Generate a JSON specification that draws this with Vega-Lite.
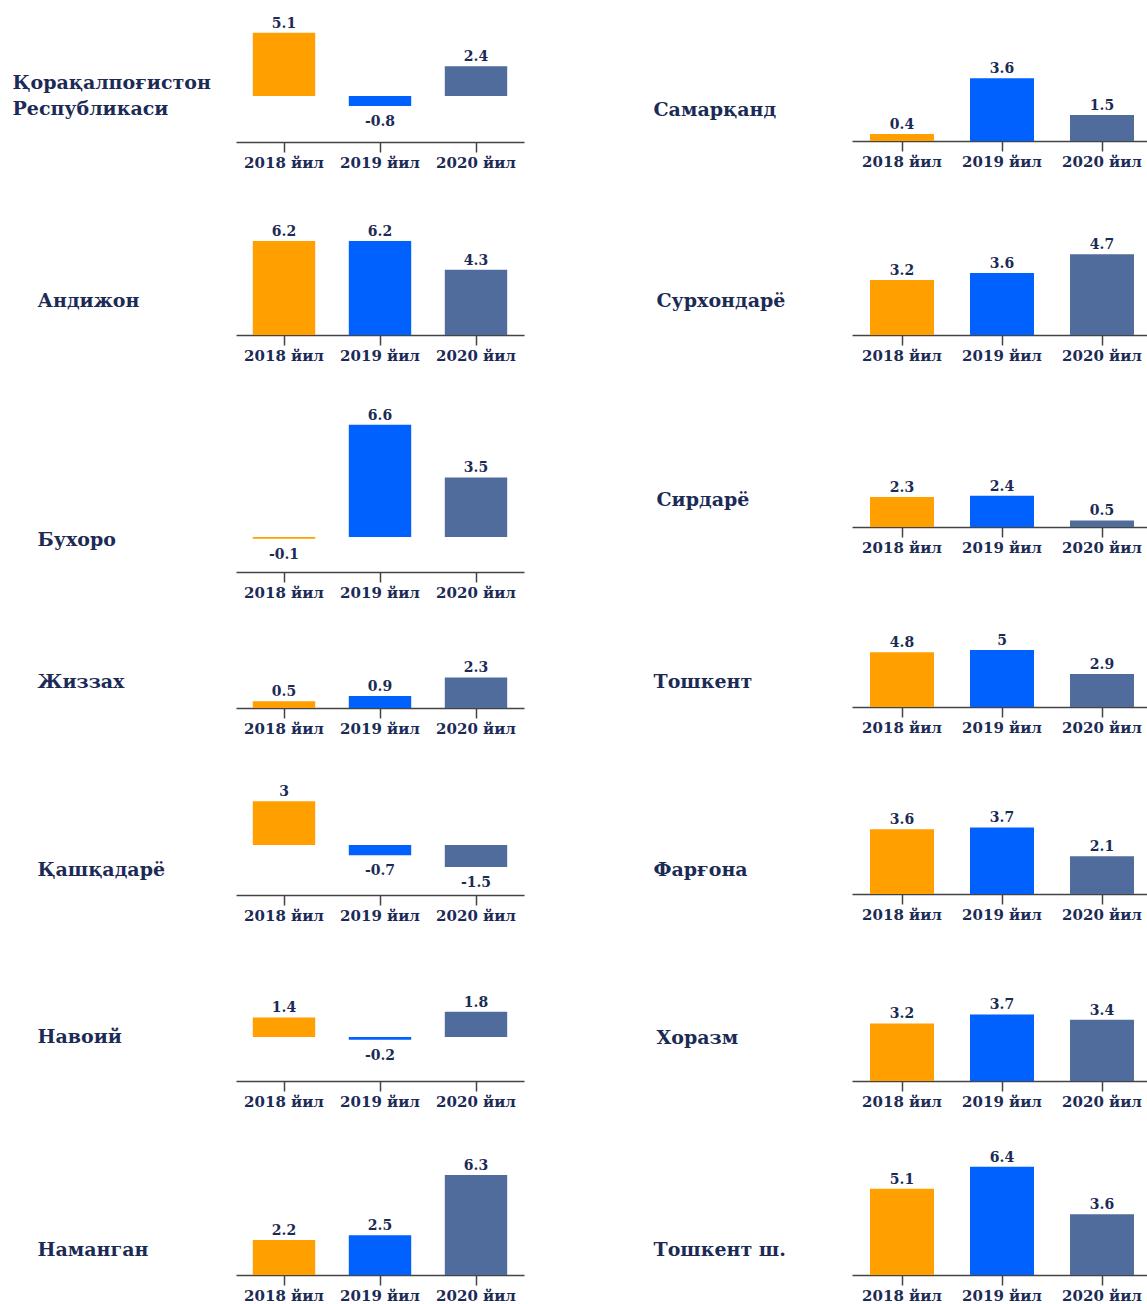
{
  "$schema": "https://vega.github.io/schema/vega-lite/v6.json",
  "padding": {"left": 12, "top": 10, "right": 0, "bottom": 0},
  "background": "white",
  "datasets": {
    "d": [
      {"region": "Қорақалпоғистон Республикаси", "year": "2018 йил", "value": 5.1},
      {"region": "Қорақалпоғистон Республикаси", "year": "2019 йил", "value": -0.8},
      {"region": "Қорақалпоғистон Республикаси", "year": "2020 йил", "value": 2.4},
      {"region": "Андижон", "year": "2018 йил", "value": 6.2},
      {"region": "Андижон", "year": "2019 йил", "value": 6.2},
      {"region": "Андижон", "year": "2020 йил", "value": 4.3},
      {"region": "Бухоро", "year": "2018 йил", "value": -0.1},
      {"region": "Бухоро", "year": "2019 йил", "value": 6.6},
      {"region": "Бухоро", "year": "2020 йил", "value": 3.5},
      {"region": "Жиззах", "year": "2018 йил", "value": 0.5},
      {"region": "Жиззах", "year": "2019 йил", "value": 0.9},
      {"region": "Жиззах", "year": "2020 йил", "value": 2.3},
      {"region": "Қашқадарё", "year": "2018 йил", "value": 3},
      {"region": "Қашқадарё", "year": "2019 йил", "value": -0.7},
      {"region": "Қашқадарё", "year": "2020 йил", "value": -1.5},
      {"region": "Навоий", "year": "2018 йил", "value": 1.4},
      {"region": "Навоий", "year": "2019 йил", "value": -0.2},
      {"region": "Навоий", "year": "2020 йил", "value": 1.8},
      {"region": "Наманган", "year": "2018 йил", "value": 2.2},
      {"region": "Наманган", "year": "2019 йил", "value": 2.5},
      {"region": "Наманган", "year": "2020 йил", "value": 6.3},
      {"region": "Самарқанд", "year": "2018 йил", "value": 0.4},
      {"region": "Самарқанд", "year": "2019 йил", "value": 3.6},
      {"region": "Самарқанд", "year": "2020 йил", "value": 1.5},
      {"region": "Сурхондарё", "year": "2018 йил", "value": 3.2},
      {"region": "Сурхондарё", "year": "2019 йил", "value": 3.6},
      {"region": "Сурхондарё", "year": "2020 йил", "value": 4.7},
      {"region": "Сирдарё", "year": "2018 йил", "value": 2.3},
      {"region": "Сирдарё", "year": "2019 йил", "value": 2.4},
      {"region": "Сирдарё", "year": "2020 йил", "value": 0.5},
      {"region": "Тошкент", "year": "2018 йил", "value": 4.8},
      {"region": "Тошкент", "year": "2019 йил", "value": 5},
      {"region": "Тошкент", "year": "2020 йил", "value": 2.9},
      {"region": "Фарғона", "year": "2018 йил", "value": 3.6},
      {"region": "Фарғона", "year": "2019 йил", "value": 3.7},
      {"region": "Фарғона", "year": "2020 йил", "value": 2.1},
      {"region": "Хоразм", "year": "2018 йил", "value": 3.2},
      {"region": "Хоразм", "year": "2019 йил", "value": 3.7},
      {"region": "Хоразм", "year": "2020 йил", "value": 3.4},
      {"region": "Тошкент ш.", "year": "2018 йил", "value": 5.1},
      {"region": "Тошкент ш.", "year": "2019 йил", "value": 6.4},
      {"region": "Тошкент ш.", "year": "2020 йил", "value": 3.6}
    ]
  },
  "data": {"name": "d"},
  "bounds": "flush",
  "align": "each",
  "columns": 2,
  "spacing": {"row": 40, "column": 328},
  "concat": [
    {
      "width": 288, "height": 132,
      "transform": [{"filter": "datum.region === 'Қорақалпоғистон Республикаси'"}],
      "encoding": {
        "x": {"field": "year", "type": "nominal", "sort": null, "scale": {"paddingInner": 0.35, "paddingOuter": 0.175}, "title": null},
        "y": {"field": "value", "type": "quantitative", "scale": {"domain": [-3.71, 6.94], "nice": false, "zero": false}, "axis": {"title": ["Қорақалпоғистон", "Республикаси"], "titleX": -224, "titleY": 72}}
      },
      "layer": [
        {"mark": "bar", "encoding": {"color": {"field": "year", "type": "nominal", "scale": {"domain": ["2018 йил", "2019 йил", "2020 йил"], "range": ["#FF9F00", "#0061FF", "#506C9C"]}, "legend": null}}},
        {"transform": [{"filter": "datum.value >= 0"}], "mark": {"type": "text", "baseline": "alphabetic", "dy": -5}, "encoding": {"text": {"field": "value", "type": "nominal"}}},
        {"transform": [{"filter": "datum.value < 0"}], "mark": {"type": "text", "baseline": "top", "dy": 9}, "encoding": {"text": {"field": "value", "type": "nominal"}}}
      ]
    },
    {
      "width": 300, "height": 131,
      "transform": [{"filter": "datum.region === 'Самарқанд'"}],
      "encoding": {
        "x": {"field": "year", "type": "nominal", "sort": null, "scale": {"paddingInner": 0.36, "paddingOuter": 0.18}, "title": null},
        "y": {"field": "value", "type": "quantitative", "scale": {"domain": [0, 7.53], "nice": false, "zero": false}, "axis": {"title": "Самарқанд", "titleX": -199, "titleY": 99}}
      },
      "layer": [
        {"mark": "bar", "encoding": {"color": {"field": "year", "type": "nominal", "scale": {"domain": ["2018 йил", "2019 йил", "2020 йил"], "range": ["#FF9F00", "#0061FF", "#506C9C"]}, "legend": null}}},
        {"transform": [{"filter": "datum.value >= 0"}], "mark": {"type": "text", "baseline": "alphabetic", "dy": -5}, "encoding": {"text": {"field": "value", "type": "nominal"}}},
        {"transform": [{"filter": "datum.value < 0"}], "mark": {"type": "text", "baseline": "top", "dy": 9}, "encoding": {"text": {"field": "value", "type": "nominal"}}}
      ]
    },
    {
      "width": 288, "height": 153,
      "transform": [{"filter": "datum.region === 'Андижон'"}],
      "encoding": {
        "x": {"field": "year", "type": "nominal", "sort": null, "scale": {"paddingInner": 0.35, "paddingOuter": 0.175}, "title": null},
        "y": {"field": "value", "type": "quantitative", "scale": {"domain": [0, 10.1], "nice": false, "zero": false}, "axis": {"title": "Андижон", "titleX": -199, "titleY": 118}}
      },
      "layer": [
        {"mark": "bar", "encoding": {"color": {"field": "year", "type": "nominal", "scale": {"domain": ["2018 йил", "2019 йил", "2020 йил"], "range": ["#FF9F00", "#0061FF", "#506C9C"]}, "legend": null}}},
        {"transform": [{"filter": "datum.value >= 0"}], "mark": {"type": "text", "baseline": "alphabetic", "dy": -5}, "encoding": {"text": {"field": "value", "type": "nominal"}}},
        {"transform": [{"filter": "datum.value < 0"}], "mark": {"type": "text", "baseline": "top", "dy": 9}, "encoding": {"text": {"field": "value", "type": "nominal"}}}
      ]
    },
    {
      "width": 300, "height": 153,
      "transform": [{"filter": "datum.region === 'Сурхондарё'"}],
      "encoding": {
        "x": {"field": "year", "type": "nominal", "sort": null, "scale": {"paddingInner": 0.36, "paddingOuter": 0.18}, "title": null},
        "y": {"field": "value", "type": "quantitative", "scale": {"domain": [0, 8.9], "nice": false, "zero": false}, "axis": {"title": "Сурхондарё", "titleX": -196, "titleY": 118}}
      },
      "layer": [
        {"mark": "bar", "encoding": {"color": {"field": "year", "type": "nominal", "scale": {"domain": ["2018 йил", "2019 йил", "2020 йил"], "range": ["#FF9F00", "#0061FF", "#506C9C"]}, "legend": null}}},
        {"transform": [{"filter": "datum.value >= 0"}], "mark": {"type": "text", "baseline": "alphabetic", "dy": -5}, "encoding": {"text": {"field": "value", "type": "nominal"}}},
        {"transform": [{"filter": "datum.value < 0"}], "mark": {"type": "text", "baseline": "top", "dy": 9}, "encoding": {"text": {"field": "value", "type": "nominal"}}}
      ]
    },
    {
      "width": 288, "height": 197,
      "transform": [{"filter": "datum.region === 'Бухоро'"}],
      "encoding": {
        "x": {"field": "year", "type": "nominal", "sort": null, "scale": {"paddingInner": 0.35, "paddingOuter": 0.175}, "title": null},
        "y": {"field": "value", "type": "quantitative", "scale": {"domain": [-2.06, 9.53], "nice": false, "zero": false}, "axis": {"title": "Бухоро", "titleX": -199, "titleY": 164}}
      },
      "layer": [
        {"mark": "bar", "encoding": {"color": {"field": "year", "type": "nominal", "scale": {"domain": ["2018 йил", "2019 йил", "2020 йил"], "range": ["#FF9F00", "#0061FF", "#506C9C"]}, "legend": null}}},
        {"transform": [{"filter": "datum.value >= 0"}], "mark": {"type": "text", "baseline": "alphabetic", "dy": -5}, "encoding": {"text": {"field": "value", "type": "nominal"}}},
        {"transform": [{"filter": "datum.value < 0"}], "mark": {"type": "text", "baseline": "top", "dy": 9}, "encoding": {"text": {"field": "value", "type": "nominal"}}}
      ]
    },
    {
      "width": 300, "height": 152,
      "transform": [{"filter": "datum.region === 'Сирдарё'"}],
      "encoding": {
        "x": {"field": "year", "type": "nominal", "sort": null, "scale": {"paddingInner": 0.36, "paddingOuter": 0.18}, "title": null},
        "y": {"field": "value", "type": "quantitative", "scale": {"domain": [0, 11.69], "nice": false, "zero": false}, "axis": {"title": "Сирдарё", "titleX": -196, "titleY": 124}}
      },
      "layer": [
        {"mark": "bar", "encoding": {"color": {"field": "year", "type": "nominal", "scale": {"domain": ["2018 йил", "2019 йил", "2020 йил"], "range": ["#FF9F00", "#0061FF", "#506C9C"]}, "legend": null}}},
        {"transform": [{"filter": "datum.value >= 0"}], "mark": {"type": "text", "baseline": "alphabetic", "dy": -5}, "encoding": {"text": {"field": "value", "type": "nominal"}}},
        {"transform": [{"filter": "datum.value < 0"}], "mark": {"type": "text", "baseline": "top", "dy": 9}, "encoding": {"text": {"field": "value", "type": "nominal"}}}
      ]
    },
    {
      "width": 288, "height": 96,
      "transform": [{"filter": "datum.region === 'Жиззах'"}],
      "encoding": {
        "x": {"field": "year", "type": "nominal", "sort": null, "scale": {"paddingInner": 0.35, "paddingOuter": 0.175}, "title": null},
        "y": {"field": "value", "type": "quantitative", "scale": {"domain": [0, 7.22], "nice": false, "zero": false}, "axis": {"title": "Жиззах", "titleX": -199, "titleY": 69}}
      },
      "layer": [
        {"mark": "bar", "encoding": {"color": {"field": "year", "type": "nominal", "scale": {"domain": ["2018 йил", "2019 йил", "2020 йил"], "range": ["#FF9F00", "#0061FF", "#506C9C"]}, "legend": null}}},
        {"transform": [{"filter": "datum.value >= 0"}], "mark": {"type": "text", "baseline": "alphabetic", "dy": -5}, "encoding": {"text": {"field": "value", "type": "nominal"}}},
        {"transform": [{"filter": "datum.value < 0"}], "mark": {"type": "text", "baseline": "top", "dy": 9}, "encoding": {"text": {"field": "value", "type": "nominal"}}}
      ]
    },
    {
      "width": 300, "height": 95,
      "transform": [{"filter": "datum.region === 'Тошкент'"}],
      "encoding": {
        "x": {"field": "year", "type": "nominal", "sort": null, "scale": {"paddingInner": 0.36, "paddingOuter": 0.18}, "title": null},
        "y": {"field": "value", "type": "quantitative", "scale": {"domain": [0, 8.33], "nice": false, "zero": false}, "axis": {"title": "Тошкент", "titleX": -199, "titleY": 69}}
      },
      "layer": [
        {"mark": "bar", "encoding": {"color": {"field": "year", "type": "nominal", "scale": {"domain": ["2018 йил", "2019 йил", "2020 йил"], "range": ["#FF9F00", "#0061FF", "#506C9C"]}, "legend": null}}},
        {"transform": [{"filter": "datum.value >= 0"}], "mark": {"type": "text", "baseline": "alphabetic", "dy": -5}, "encoding": {"text": {"field": "value", "type": "nominal"}}},
        {"transform": [{"filter": "datum.value < 0"}], "mark": {"type": "text", "baseline": "top", "dy": 9}, "encoding": {"text": {"field": "value", "type": "nominal"}}}
      ]
    },
    {
      "width": 288, "height": 147,
      "transform": [{"filter": "datum.region === 'Қашқадарё'"}],
      "encoding": {
        "x": {"field": "year", "type": "nominal", "sort": null, "scale": {"paddingInner": 0.35, "paddingOuter": 0.175}, "title": null},
        "y": {"field": "value", "type": "quantitative", "scale": {"domain": [-3.42, 6.64], "nice": false, "zero": false}, "axis": {"title": "Қашқадарё", "titleX": -199, "titleY": 121}}
      },
      "layer": [
        {"mark": "bar", "encoding": {"color": {"field": "year", "type": "nominal", "scale": {"domain": ["2018 йил", "2019 йил", "2020 йил"], "range": ["#FF9F00", "#0061FF", "#506C9C"]}, "legend": null}}},
        {"transform": [{"filter": "datum.value >= 0"}], "mark": {"type": "text", "baseline": "alphabetic", "dy": -5}, "encoding": {"text": {"field": "value", "type": "nominal"}}},
        {"transform": [{"filter": "datum.value < 0"}], "mark": {"type": "text", "baseline": "top", "dy": 9}, "encoding": {"text": {"field": "value", "type": "nominal"}}}
      ]
    },
    {
      "width": 300, "height": 146,
      "transform": [{"filter": "datum.region === 'Фарғона'"}],
      "encoding": {
        "x": {"field": "year", "type": "nominal", "sort": null, "scale": {"paddingInner": 0.36, "paddingOuter": 0.18}, "title": null},
        "y": {"field": "value", "type": "quantitative", "scale": {"domain": [0, 8.11], "nice": false, "zero": false}, "axis": {"title": "Фарғона", "titleX": -199, "titleY": 121}}
      },
      "layer": [
        {"mark": "bar", "encoding": {"color": {"field": "year", "type": "nominal", "scale": {"domain": ["2018 йил", "2019 йил", "2020 йил"], "range": ["#FF9F00", "#0061FF", "#506C9C"]}, "legend": null}}},
        {"transform": [{"filter": "datum.value >= 0"}], "mark": {"type": "text", "baseline": "alphabetic", "dy": -5}, "encoding": {"text": {"field": "value", "type": "nominal"}}},
        {"transform": [{"filter": "datum.value < 0"}], "mark": {"type": "text", "baseline": "top", "dy": 9}, "encoding": {"text": {"field": "value", "type": "nominal"}}}
      ]
    },
    {
      "width": 288, "height": 146,
      "transform": [{"filter": "datum.region === 'Навоий'"}],
      "encoding": {
        "x": {"field": "year", "type": "nominal", "sort": null, "scale": {"paddingInner": 0.35, "paddingOuter": 0.175}, "title": null},
        "y": {"field": "value", "type": "quantitative", "scale": {"domain": [-3.14, 7.29], "nice": false, "zero": false}, "axis": {"title": "Навоий", "titleX": -199, "titleY": 101}}
      },
      "layer": [
        {"mark": "bar", "encoding": {"color": {"field": "year", "type": "nominal", "scale": {"domain": ["2018 йил", "2019 йил", "2020 йил"], "range": ["#FF9F00", "#0061FF", "#506C9C"]}, "legend": null}}},
        {"transform": [{"filter": "datum.value >= 0"}], "mark": {"type": "text", "baseline": "alphabetic", "dy": -5}, "encoding": {"text": {"field": "value", "type": "nominal"}}},
        {"transform": [{"filter": "datum.value < 0"}], "mark": {"type": "text", "baseline": "top", "dy": 9}, "encoding": {"text": {"field": "value", "type": "nominal"}}}
      ]
    },
    {
      "width": 300, "height": 146,
      "transform": [{"filter": "datum.region === 'Хоразм'"}],
      "encoding": {
        "x": {"field": "year", "type": "nominal", "sort": null, "scale": {"paddingInner": 0.36, "paddingOuter": 0.18}, "title": null},
        "y": {"field": "value", "type": "quantitative", "scale": {"domain": [0, 8.11], "nice": false, "zero": false}, "axis": {"title": "Хоразм", "titleX": -196, "titleY": 102}}
      },
      "layer": [
        {"mark": "bar", "encoding": {"color": {"field": "year", "type": "nominal", "scale": {"domain": ["2018 йил", "2019 йил", "2020 йил"], "range": ["#FF9F00", "#0061FF", "#506C9C"]}, "legend": null}}},
        {"transform": [{"filter": "datum.value >= 0"}], "mark": {"type": "text", "baseline": "alphabetic", "dy": -5}, "encoding": {"text": {"field": "value", "type": "nominal"}}},
        {"transform": [{"filter": "datum.value < 0"}], "mark": {"type": "text", "baseline": "top", "dy": 9}, "encoding": {"text": {"field": "value", "type": "nominal"}}}
      ]
    },
    {
      "width": 288, "height": 154,
      "transform": [{"filter": "datum.region === 'Наманган'"}],
      "encoding": {
        "x": {"field": "year", "type": "nominal", "sort": null, "scale": {"paddingInner": 0.35, "paddingOuter": 0.175}, "title": null},
        "y": {"field": "value", "type": "quantitative", "scale": {"domain": [0, 9.69], "nice": false, "zero": false}, "axis": {"title": "Наманган", "titleX": -199, "titleY": 128}}
      },
      "layer": [
        {"mark": "bar", "encoding": {"color": {"field": "year", "type": "nominal", "scale": {"domain": ["2018 йил", "2019 йил", "2020 йил"], "range": ["#FF9F00", "#0061FF", "#506C9C"]}, "legend": null}}},
        {"transform": [{"filter": "datum.value >= 0"}], "mark": {"type": "text", "baseline": "alphabetic", "dy": -5}, "encoding": {"text": {"field": "value", "type": "nominal"}}},
        {"transform": [{"filter": "datum.value < 0"}], "mark": {"type": "text", "baseline": "top", "dy": 9}, "encoding": {"text": {"field": "value", "type": "nominal"}}}
      ]
    },
    {
      "width": 300, "height": 154,
      "transform": [{"filter": "datum.region === 'Тошкент ш.'"}],
      "encoding": {
        "x": {"field": "year", "type": "nominal", "sort": null, "scale": {"paddingInner": 0.36, "paddingOuter": 0.18}, "title": null},
        "y": {"field": "value", "type": "quantitative", "scale": {"domain": [0, 9.11], "nice": false, "zero": false}, "axis": {"title": "Тошкент ш.", "titleX": -199, "titleY": 128}}
      },
      "layer": [
        {"mark": "bar", "encoding": {"color": {"field": "year", "type": "nominal", "scale": {"domain": ["2018 йил", "2019 йил", "2020 йил"], "range": ["#FF9F00", "#0061FF", "#506C9C"]}, "legend": null}}},
        {"transform": [{"filter": "datum.value >= 0"}], "mark": {"type": "text", "baseline": "alphabetic", "dy": -5}, "encoding": {"text": {"field": "value", "type": "nominal"}}},
        {"transform": [{"filter": "datum.value < 0"}], "mark": {"type": "text", "baseline": "top", "dy": 9}, "encoding": {"text": {"field": "value", "type": "nominal"}}}
      ]
    }
  ],
  "config": {
    "view": {"stroke": null},
    "text": {"font": "DejaVu Serif", "fontWeight": "bold", "fontSize": 14, "color": "#1C2B55"},
    "axisX": {
      "labelAngle": 0, "labelFont": "DejaVu Serif", "labelFontWeight": "bold", "labelFontSize": 15, "labelColor": "#1C2B55",
      "labelPadding": 3, "domainColor": "#444444", "domainWidth": 1.5, "tickColor": "#444444", "tickWidth": 1.5, "tickSize": 10, "grid": false
    },
    "axisY": {
      "domain": false, "ticks": false, "labels": false, "grid": false,
      "titleAngle": 0, "titleAlign": "left", "titleBaseline": "middle", "titleFont": "DejaVu Serif", "titleFontWeight": "bold",
      "titleFontSize": 19, "titleColor": "#1C2B55", "titleLineHeight": 26
    }
  }
}
